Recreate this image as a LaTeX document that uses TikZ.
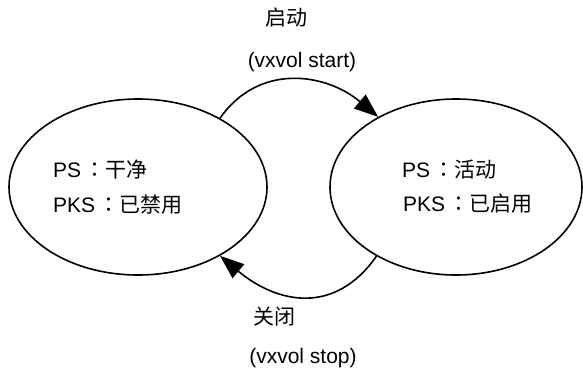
\documentclass[tikz,border=0pt]{standalone}
\usepackage{fontspec}
\setmainfont{Liberation Sans}
\newfontfamily\cjk{Noto Sans CJK SC}
\newfontfamily\cjkpunct{Noto Sans CJK TC}
\newcommand\sep{\kern3pt{\cjkpunct ：}}
\usetikzlibrary{shapes.geometric,arrows.meta}

\tikzset{
  phase/.style={ellipse,draw,line width=1.6pt,inner sep=0pt,
    minimum width=258pt,minimum height=176pt},
  row/.style={anchor=west,inner sep=0pt},
  move/.style={line width=1.6pt,-{Triangle[length=24pt,width=18pt]}}
}

\begin{document}
\begin{tikzpicture}[x=1pt,y=-1pt,font=\fontsize{21}{25}\selectfont]
    \useasboundingbox (0,0) rectangle (583,373);
    % the two volume states
    \node[phase] (clean) at (138,187) {};
    \node[phase,minimum width=252pt] (active) at (456,187) {};
    \node[row] (cleanps) at (53,169) {PS\sep{\cjk 干净}};
    \node[row] (cleanpks) at (53,205) {PKS\sep{\cjk 已禁用}};
    \node[row] (activeps) at (402,170) {PS\sep{\cjk 活动}};
    \node[row] (activepks) at (403,204) {PKS\sep{\cjk 已启用}};
    % transitions
    \draw[move] (clean.40) to[out=55,in=140,looseness=1.1] (active.138);
    \draw[move] (active.221) to[out=235,in=-40,looseness=1.2] (clean.320);
    \node (start) at (286,18) {\cjk 启动};
    \node (startcmd) at (302,62) {(vxvol start)};
    \node (stop) at (274,317) {\cjk 关闭};
    \node (stopcmd) at (303,358) {(vxvol stop)};
\end{tikzpicture}
\end{document}
